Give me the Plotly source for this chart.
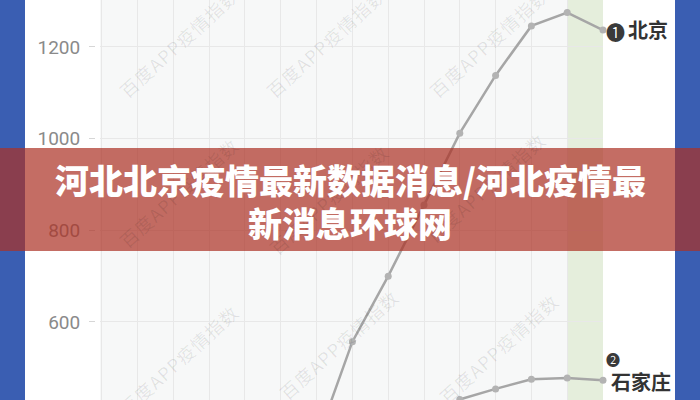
import plotly.graph_objects as go

# ---- data ----
dates = ["1月1日", "1月2日", "1月3日", "1月4日", "1月5日", "1月6日", "1月7日", "1月8日",
         "1月9日", "1月10日", "1月11日", "1月12日", "1月13日", "1月14日", "1月15日"]
beijing = [80, 105, 135, 170, 215, 270, 339, 557, 700, 855, 1012, 1138, 1246, 1275, 1237]
shijiazhuang = [15, 30, 50, 75, 105, 140, 185, 240, 300, 370, 431, 454, 475, 478, 473]
y_ticks = [600, 800, 1000, 1200]
title_line1 = "河北北京疫情最新数据消息/河北疫情最"
title_line2 = "新消息环球网"
watermark = "百\u200a度\u200aA\u200aP\u200aP\u200a疫\u200a情\u200a指\u200a数"

W, H = 700, 400


def px(x):
    return x / W


def py(y):
    return 1 - y / H


LINE = "#a6a6a6"
MARK = "#b3b3b3"

fig = go.Figure()
for vals in (beijing, shijiazhuang):
    fig.add_trace(go.Scatter(
        x=dates, y=vals, mode="lines+markers",
        line=dict(color=LINE, width=2.5),
        marker=dict(color=MARK, size=7),
        cliponaxis=False, showlegend=False, hoverinfo="skip"))

shapes = [
    dict(type="rect", xref="paper", yref="paper", x0=0, x1=px(25), y0=0, y1=1,
         fillcolor="#3a5eb2", line=dict(width=0), layer="above"),
    dict(type="rect", xref="paper", yref="paper", x0=px(675), x1=1, y0=0, y1=1,
         fillcolor="#3a5eb2", line=dict(width=0), layer="above"),
    dict(type="rect", xref="x", yref="y domain", x0=dates[-2], x1=dates[-1], y0=0, y1=1,
         fillcolor="#e5eedc", line=dict(width=0), layer="below"),
    dict(type="rect", xref="paper", yref="paper", x0=0, x1=1, y0=py(251), y1=py(148),
         fillcolor="rgba(172,50,36,0.71)", line=dict(width=0), layer="above"),
]

annotations = []
wm_centers = [(178, 43), (325, 43), (488, 43),
              (178, 193), (328, 200), (485, 188),
              (178, 360), (338, 345), (498, 349)]
for cx, cy in wm_centers:
    annotations.append(dict(
        x=px(cx), y=py(cy), xref="paper", yref="paper", text=watermark,
        showarrow=False, textangle=-42, xanchor="center", yanchor="middle",
        font=dict(family="Noto Sans CJK SC", size=18, color="rgba(0,0,0,0.09)")))

cjk = "Noto Sans CJK SC"
annotations += [
    dict(x=px(350), y=py(179), xref="paper", yref="paper", text=title_line1,
         showarrow=False, xanchor="center", yanchor="middle",
         font=dict(family=cjk, size=34, color="white", weight=900)),
    dict(x=px(350), y=py(222), xref="paper", yref="paper", text=title_line2,
         showarrow=False, xanchor="center", yanchor="middle",
         font=dict(family=cjk, size=34, color="white", weight=900)),
    dict(x=px(615), y=py(31), xref="paper", yref="paper", text="❶",
         showarrow=False, xanchor="center", yanchor="middle",
         font=dict(family=cjk, size=19, color="#3a3a3a")),
    dict(x=px(626), y=py(30), xref="paper", yref="paper", text="北京",
         showarrow=False, xanchor="left", yanchor="middle",
         font=dict(family=cjk, size=20, color="#333333", weight=700)),
    dict(x=px(613), y=py(359), xref="paper", yref="paper", text="❷",
         showarrow=False, xanchor="center", yanchor="middle",
         font=dict(family=cjk, size=14, color="#3a3a3a")),
    dict(x=px(609), y=py(381), xref="paper", yref="paper", text="石家庄",
         showarrow=False, xanchor="left", yanchor="middle",
         font=dict(family=cjk, size=20, color="#333333", weight=700)),
]

fig.update_layout(
    width=W, height=H, autosize=False,
    margin=dict(l=0, r=0, t=0, b=0, pad=0),
    paper_bgcolor="white", plot_bgcolor="#f7f8f8",
    shapes=shapes, annotations=annotations,
    xaxis=dict(type="category", domain=[px(100), px(603)], range=[-0.05, 14],
               showticklabels=False, ticks="", showgrid=True, gridcolor="#e8e8e8",
               gridwidth=1, zeroline=False, showline=False, fixedrange=True),
    yaxis=dict(anchor="free", position=px(95), domain=[0, 1],
               range=[429.8, 1302.5], tickvals=y_ticks,
               ticks="outside", ticklen=6, tickcolor="#d6d6d6", tickwidth=1,
               showgrid=True, gridcolor="#e8e8e8", gridwidth=1,
               zeroline=False, showline=False, ticklabelstandoff=5,
               tickfont=dict(family="Liberation Sans Narrow, Roboto, sans-serif",
                             size=19, color="#8a8a8a"),
               fixedrange=True),
)

fig.write_html("out.html", config={"displayModeBar": False, "staticPlot": True},
               post_script="document.body.style.margin='0';document.body.style.overflow='hidden';")
